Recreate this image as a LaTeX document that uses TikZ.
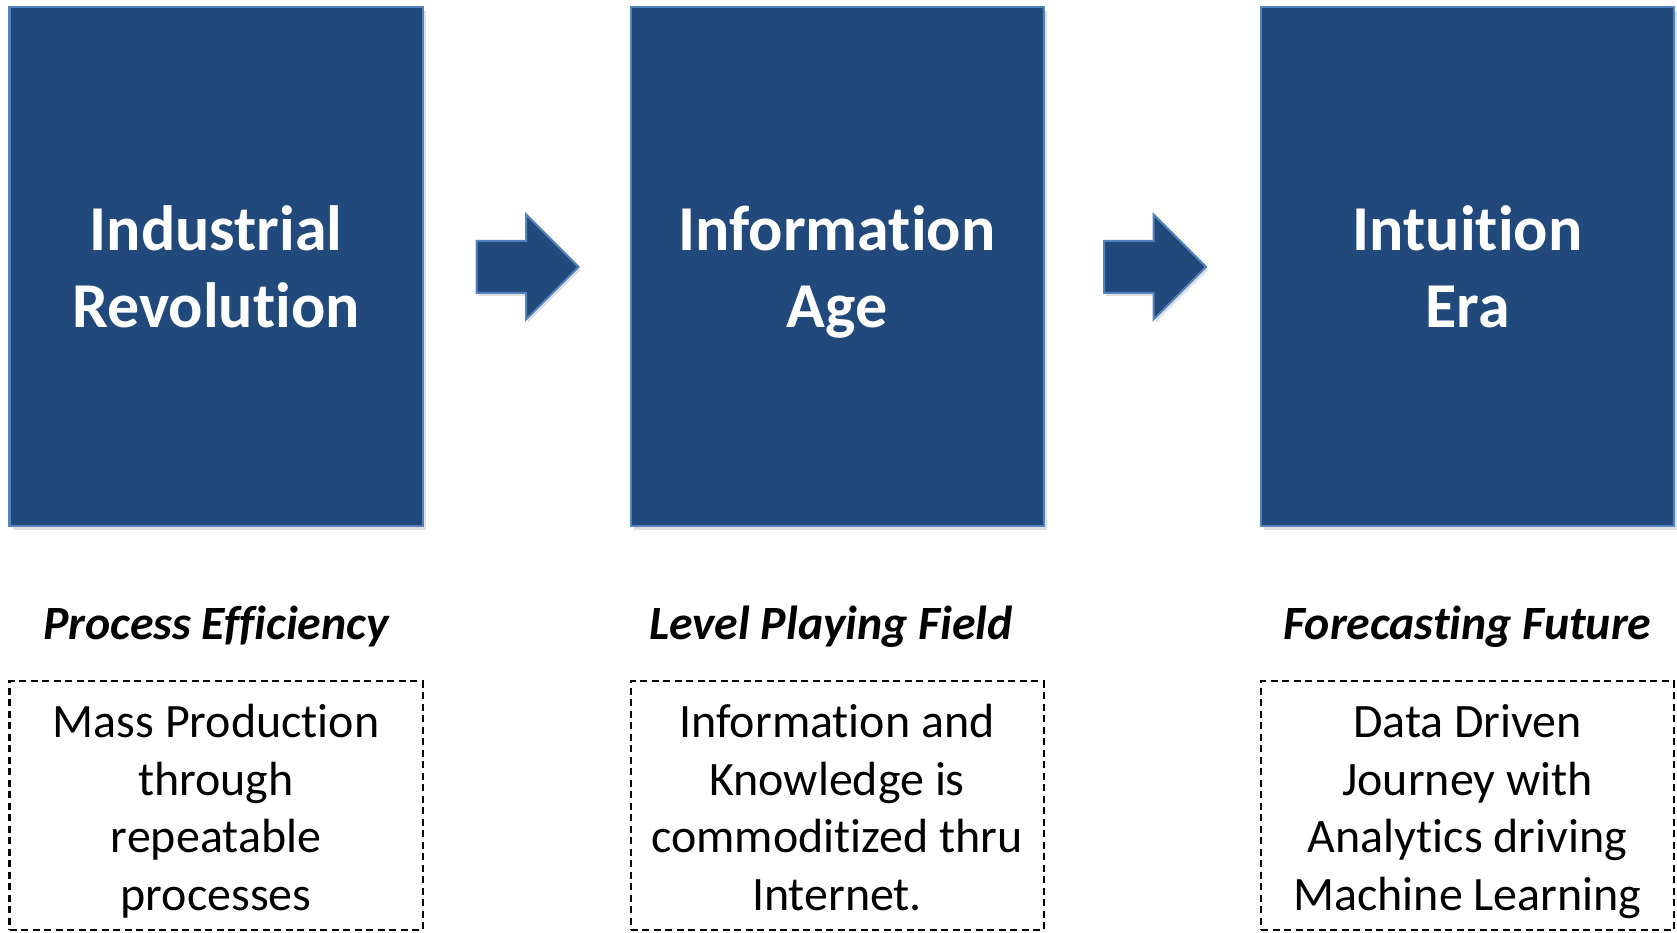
\documentclass[tikz,border=0pt]{standalone}
\usepackage{fontspec}
\setmainfont{Carlito}[Ligatures=NoCommon]
\usetikzlibrary{shapes.arrows,shadows}
\definecolor{eraBlue}{RGB}{33,73,123}
\definecolor{edgeBlue}{RGB}{84,130,190}
\tikzset{
every picture/.style={
line width=0.6pt
}}
\newcommand{\eratop}{\rule{0pt}{15.65pt}}
\newcommand{\notetop}{\rule{0pt}{13.25pt}}
\newcommand{\linebot}{\rule[-3pt]{0pt}{3pt}}

\begin{document}
\begin{tikzpicture}[
era/.style = {rectangle, fill=eraBlue, draw=edgeBlue, line width=0.02cm, minimum width=4.13cm, minimum height=5.19cm, text=white, align=center, font=\fontsize{18.2}{21.85}\selectfont\bfseries, drop shadow={opacity=0.25, shadow xshift=0.03cm, shadow yshift=-0.04cm}},
nextarrow/.style = {single arrow, fill=eraBlue, draw=edgeBlue, line width=0.02cm, minimum height=1.02cm, single arrow head extend=0.265cm, single arrow tip angle=90, inner xsep=0pt, inner ysep=0.25cm, drop shadow={opacity=0.25, shadow xshift=0.02cm, shadow yshift=-0.03cm}},
theme/.style = {anchor=base, font=\fontsize{13.6}{16}\selectfont\bfseries\itshape},
note/.style = {rectangle, draw=black, line width=0.02cm, dash pattern=on 0.07cm off 0.045cm, inner ysep=1pt, minimum width=4.13cm, minimum height=2.49cm, align=center, font=\fontsize{13.65}{16.35}\selectfont}]

\useasboundingbox (0,0) rectangle (16.77,9.33);

\node[era] (ind) at (2.16,6.66) {\eratop Industrial\\Revolution\linebot};
\node[era] (inf) at (8.37,6.66) {\eratop Information\\Age\linebot};
\node[era] (int) at (14.675,6.66) {\eratop Intuition\\Era\linebot};

\node[nextarrow, anchor=tip] (a1) at (5.80,6.66) {};
\node[nextarrow, anchor=tip] (a2) at (12.075,6.66) {};

\node[theme] (t1) at (2.16,2.93) {Process Efficiency};
\node[theme] (t2) at (8.31,2.93) {Level Playing Field};
\node[theme] (t3) at (14.675,2.93) {Forecasting Future};

\node[note] (n1) at (2.16,1.27) {\notetop Mass Production\\through\\repeatable\\processes\linebot};
\node[note] (n2) at (8.37,1.27) {\notetop Information and\\Knowledge is\\commoditized thru\\Internet.\linebot};
\node[note] (n3) at (14.675,1.27) {\notetop Data Driven\\Journey with\\Analytics driving\\Machine Learning\linebot};
\end{tikzpicture}
\end{document}
